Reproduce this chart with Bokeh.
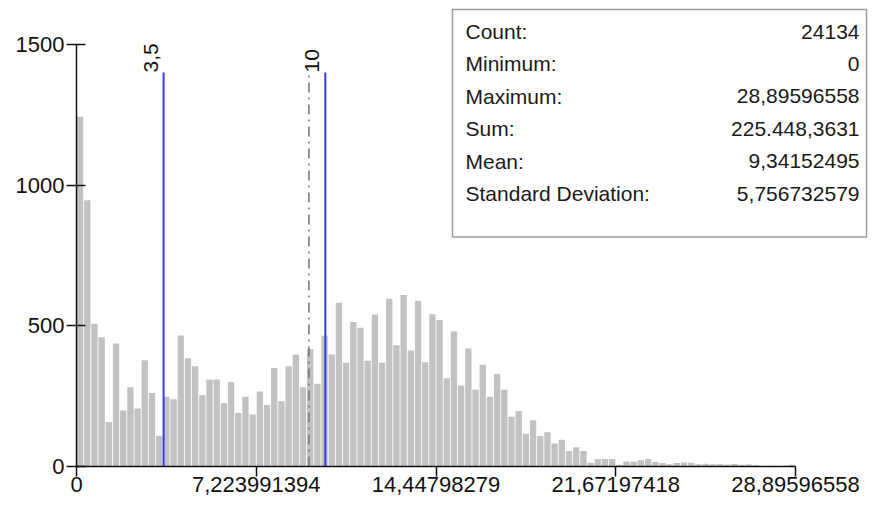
import numpy as np
from bokeh.plotting import figure
from bokeh.models import FixedTicker, Label, BoxAnnotation, ColumnDataSource
from bokeh.embed import file_html
from bokeh.resources import INLINE

# ---------------- data ----------------
counts = [1243, 946, 507, 459, 158, 437, 199, 282, 206, 378,
          261, 109, 248, 239, 466, 385, 356, 253, 309, 309,
          226, 300, 190, 248, 185, 267, 219, 350, 232, 356,
          398, 282, 418, 294, 465, 398, 582, 369, 514, 493,
          376, 540, 369, 596, 431, 610, 412, 589, 371, 541,
          521, 314, 480, 288, 419, 274, 362, 248, 329, 273,
          177, 197, 116, 164, 108, 122, 82, 95, 55, 68,
          55, 13, 27, 27, 27, 6, 18, 17, 22, 27,
          16, 12, 8, 12, 14, 13, 8, 10, 8, 9,
          7, 9, 6, 7, 4, 2, 3, 2, 3, 6]
x_min = 0.0
x_max = 28.89596558
x_tick_values = [0.0, 7.223991394, 14.44798279, 21.67197418, 28.89596558]
x_tick_labels = ["0", "7,223991394", "14,44798279", "21,67197418", "28,89596558"]
y_tick_values = [0, 500, 1000, 1500]
y_tick_labels = ["0", "500", "1000", "1500"]
break_values = [3.5, 10.0]
break_labels = ["3,5", "10"]
mean_value = 9.34152495
stat_names = ["Count:", "Minimum:", "Maximum:", "Sum:", "Mean:", "Standard Deviation:"]
stat_values = ["24134", "0", "28,89596558", "225.448,3631", "9,34152495", "5,756732579"]

# ---------------- layout constants (canvas pixels) ----------------
W, H = 870, 505
X0_PX, XMAX_PX = 76, 795         # px of x=0 and x=x_max
Y0_PX, Y1500_PX = 466, 44        # px of y=0 and y=1500
BL = X0_PX
BB = H - Y0_PX
px_per_x = (XMAX_PX - X0_PX) / (x_max - x_min)
x_end = (W - BL) / px_per_x
units_per_py = 1500.0 / (Y0_PX - Y1500_PX)
y_end = Y0_PX * units_per_py


def px_x(cx):
    return (cx - X0_PX) / px_per_x


def px_y(cy):
    return (Y0_PX - cy) * units_per_py


FONT = "Liberation Sans"

p = figure(width=W, height=H, output_backend="svg", toolbar_location=None,
           x_range=(0, x_end), y_range=(0, y_end),
           min_border_left=BL, min_border_bottom=BB, min_border_top=0,
           min_border_right=0, background_fill_color="white",
           border_fill_color="white")
p.outline_line_color = None
p.grid.visible = False

# bars
n_bins = len(counts)
edges = np.linspace(x_min, x_max, n_bins + 1)
bin_w = edges[1] - edges[0]
src = ColumnDataSource(dict(x=(edges[:-1] + edges[1:]) / 2, top=counts))
p.vbar(x="x", top="top", width=bin_w * 0.88, bottom=0, source=src,
       fill_color="#c2c2c2", line_color=None)

# class break lines and mean line
line_top = px_y(72)
p.segment(x0=[mean_value], y0=[0], x1=[mean_value], y1=[line_top],
          line_color="#7a7a7a", line_width=1.6, line_dash="10 5 2 5")
p.segment(x0=break_values, y0=[0] * len(break_values), x1=break_values,
          y1=[line_top] * len(break_values), line_color="#3838f0", line_width=2)
for bv, bl in zip(break_values, break_labels):
    p.add_layout(Label(x=bv, y=line_top, text=bl, angle=np.pi / 2,
                       text_align="left", text_baseline="middle",
                       x_offset=-13, y_offset=0, text_font=FONT,
                       text_font_size="21px", text_color="#111111"))

# axes
xa = p.xaxis[0]
xa.ticker = FixedTicker(ticks=x_tick_values)
xa.major_label_overrides = {v: l for v, l in zip(x_tick_values, x_tick_labels)}
xa.bounds = (x_min, x_max)
xa.minor_tick_line_color = None
xa.major_tick_out = 10
xa.major_tick_in = 0
xa.major_label_standoff = 0
xa.axis_line_color = "#111111"
xa.axis_line_width = 1.5
xa.major_tick_line_color = "#111111"
xa.major_tick_line_width = 1.5
xa.major_label_text_font = FONT
xa.major_label_text_font_size = "22px"
xa.major_label_text_color = "#111111"

ya = p.yaxis[0]
ya.ticker = FixedTicker(ticks=y_tick_values)
ya.major_label_overrides = {v: l for v, l in zip(y_tick_values, y_tick_labels)}
ya.bounds = (0, 1500)
ya.minor_tick_line_color = None
ya.major_tick_out = 10
ya.major_tick_in = 9
ya.major_label_standoff = 2
ya.axis_line_color = "#111111"
ya.axis_line_width = 1.5
ya.major_tick_line_color = "#111111"
ya.major_tick_line_width = 1.5
ya.major_label_text_font = FONT
ya.major_label_text_font_size = "22px"
ya.major_label_text_color = "#111111"

# statistics box
p.add_layout(BoxAnnotation(left=px_x(452), right=px_x(866), top=px_y(9), bottom=px_y(236.5),
                           fill_color="white", fill_alpha=1.0,
                           line_color="#9c9c9c", line_alpha=1.0, line_width=1.5,
                           line_dash="solid", level="overlay"))
for i, (nm, vl) in enumerate(zip(stat_names, stat_values)):
    yc = px_y(31 + i * 32.4)
    p.add_layout(Label(x=px_x(465), y=yc, text=nm, text_align="left",
                       text_baseline="middle", text_font=FONT,
                       text_font_size="21px", text_color="#1a1a1a", level="overlay"))
    p.add_layout(Label(x=px_x(859), y=yc, text=vl, text_align="right",
                       text_baseline="middle", text_font=FONT,
                       text_font_size="21px", text_color="#1a1a1a", level="overlay"))

open("out.html", "w").write(file_html(p, INLINE))
